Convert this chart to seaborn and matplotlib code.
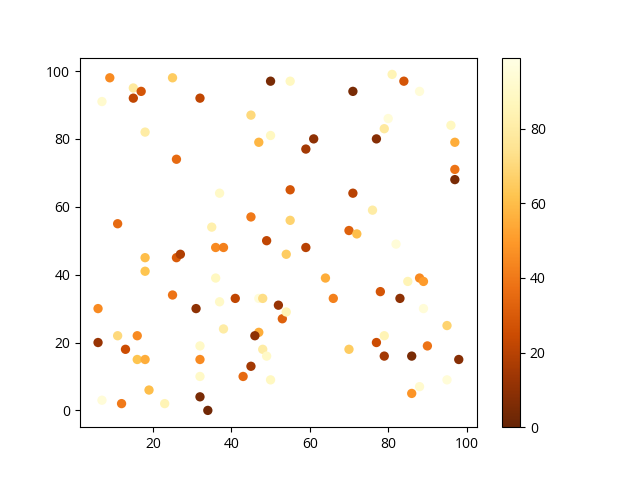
import matplotlib
matplotlib.use("Agg")
import matplotlib.pyplot as plt
import seaborn as sns
import pandas as pd
from matplotlib.colors import Normalize
from matplotlib.cm import ScalarMappable

plt.rcParams['font.family'] = ['Open Sans', 'DejaVu Sans']

x_vals = [9, 7, 15, 17, 15, 25, 32, 50, 55, 71, 81, 84, 88, 45, 18, 47, 50, 26, 37, 11,
          35, 80, 79, 96, 97, 61, 59, 77, 97, 97, 55, 71, 76, 55, 70, 72, 49, 82, 45, 36,
          38, 18, 26, 27, 18, 36, 25, 41, 37, 47, 48, 52, 53, 6, 31, 6, 11, 16, 13, 16,
          18, 38, 47, 46, 48, 49, 32, 32, 32, 45, 43, 50, 19, 7, 12, 23, 32, 34, 59, 54,
          64, 66, 88, 89, 85, 78, 83, 54, 89, 95, 79, 77, 90, 70, 79, 86, 98, 88, 86, 95]
y_vals = [98, 91, 95, 94, 92, 98, 92, 97, 97, 94, 99, 97, 94, 87, 82, 79, 81, 74, 64, 55,
          54, 86, 83, 84, 79, 80, 77, 80, 71, 68, 65, 64, 59, 56, 53, 52, 50, 49, 57, 48,
          48, 45, 45, 46, 41, 39, 34, 33, 32, 33, 33, 31, 27, 30, 30, 20, 22, 22, 18, 15,
          15, 24, 23, 22, 18, 16, 19, 15, 10, 13, 10, 9, 6, 3, 2, 2, 4, 0, 48, 46,
          39, 33, 39, 38, 38, 35, 33, 29, 30, 25, 22, 20, 19, 18, 16, 16, 15, 7, 5, 9]
c_vals = [45, 92, 78, 28, 22, 65, 22, 5, 88, 5, 85, 28, 95, 70, 80, 58, 88, 35, 90, 35,
          82, 95, 78, 88, 55, 10, 15, 8, 38, 5, 28, 20, 80, 68, 32, 60, 22, 95, 40, 45,
          42, 60, 30, 18, 62, 88, 38, 22, 90, 95, 72, 12, 32, 45, 10, 12, 70, 45, 25, 62,
          55, 80, 55, 10, 80, 90, 90, 45, 90, 15, 35, 88, 60, 95, 40, 85, 5, 3, 20, 65,
          55, 42, 45, 50, 85, 28, 10, 85, 95, 68, 85, 25, 38, 65, 15, 5, 8, 92, 48, 95]

df = pd.DataFrame({'x': x_vals, 'y': y_vals, 'c': c_vals})

fig, ax = plt.subplots(figsize=(6.4, 4.8), dpi=100)
cmap = plt.get_cmap('YlOrBr_r')
norm = Normalize(vmin=0, vmax=99)
sns.scatterplot(data=df, x='x', y='y', hue='c', palette=cmap, hue_norm=norm,
                legend=False, s=45, linewidth=0, ax=ax)
ax.set_xlabel('')
ax.set_ylabel('')
sm = ScalarMappable(norm=norm, cmap=cmap)
sm.set_array([])
fig.colorbar(sm, ax=ax)
fig.savefig('out.png', dpi=100)
